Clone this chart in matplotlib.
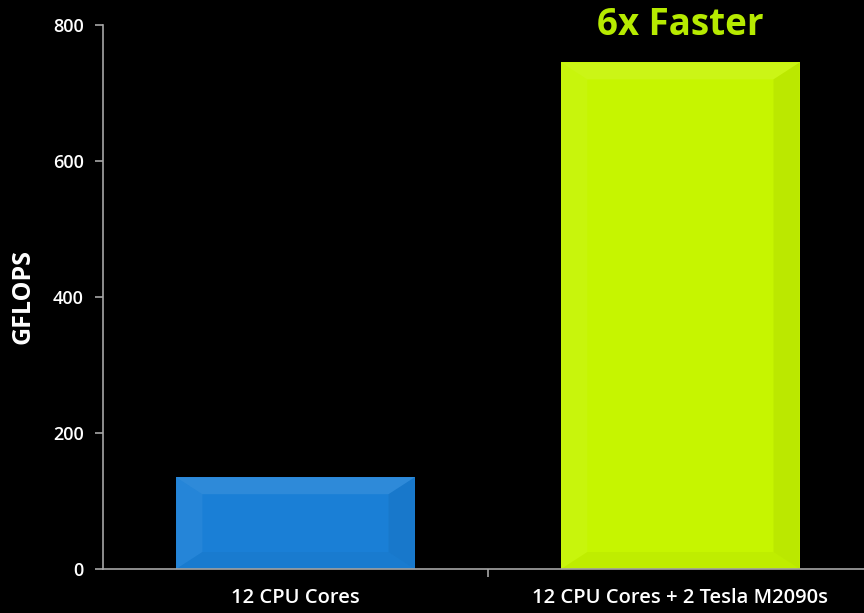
import matplotlib.pyplot as plt
from matplotlib.patches import Polygon

categories = ["12 CPU Cores", "12 CPU Cores + 2 Tesla M2090s"]
gflops = [135, 745]
colors = ["#1a7fd6", "#c6f500"]
highlight = "6x Faster"

plt.rcParams['font.family'] = ['Open Sans', 'DejaVu Sans']

fig = plt.figure(figsize=(8.64, 6.13), dpi=100, facecolor="black")
ax = fig.add_axes([0.1192, 0.0718, 0.891, 0.8874], facecolor="black")

bars = ax.bar(range(len(categories)), gflops, width=0.62, color=colors, zorder=2)

# soft bevel shading on top of each bar
for rect in bars:
    x0, y0 = rect.get_x(), rect.get_y()
    w, h = rect.get_width(), rect.get_height()
    dx = w * 0.11
    dy = min(h * 0.2, 25)
    x1 = x0 + w
    y1 = y0 + h
    faces = [
        ([(x0, y1), (x1, y1), (x1 - dx, y1 - dy), (x0 + dx, y1 - dy)], "white", 0.09),
        ([(x0, y0), (x0, y1), (x0 + dx, y1 - dy), (x0 + dx, y0 + dy)], "white", 0.05),
        ([(x1, y0), (x1, y1), (x1 - dx, y1 - dy), (x1 - dx, y0 + dy)], "black", 0.05),
        ([(x0, y0), (x1, y0), (x1 - dx, y0 + dy), (x0 + dx, y0 + dy)], "black", 0.03),
    ]
    for pts, c, a in faces:
        ax.add_patch(Polygon(pts, closed=True, facecolor=c, alpha=a,
                             edgecolor="none", zorder=3))

ax.set_xlim(-0.5, 1.5)
ax.set_ylim(0, 800)
ax.set_yticks([0, 200, 400, 600, 800])
ax.set_xticks([0, 1])
ax.set_xticklabels(categories)
ax.set_xticks([0.5], minor=True)

for s in ["top", "right"]:
    ax.spines[s].set_visible(False)
for s in ["left", "bottom"]:
    ax.spines[s].set_color("#a6a6a6")
    ax.spines[s].set_linewidth(1.2)

ax.tick_params(axis="y", colors="#a6a6a6", length=6, width=1.2, labelcolor="white",
               labelsize=13, pad=8)
ax.tick_params(axis="x", which="major", length=0, labelcolor="white", labelsize=14.5, pad=14)
ax.tick_params(axis="x", which="minor", length=6, width=1.2, color="#a6a6a6")
for lab in ax.get_xticklabels() + ax.get_yticklabels():
    lab.set_fontweight("semibold")

ax.set_ylabel("GFLOPS", color="white", fontsize=18, fontweight="bold")
ax.yaxis.label.set_va("center")
ax.yaxis.set_label_coords(-(103 - 23) / 770, 0.5)

fig.text(680 / 864, 1 - 25 / 613, highlight, color="#b6ea00", fontsize=26.5,
         fontweight="bold", ha="center", va="center")

fig.savefig("out.png", dpi=100, facecolor="black")
